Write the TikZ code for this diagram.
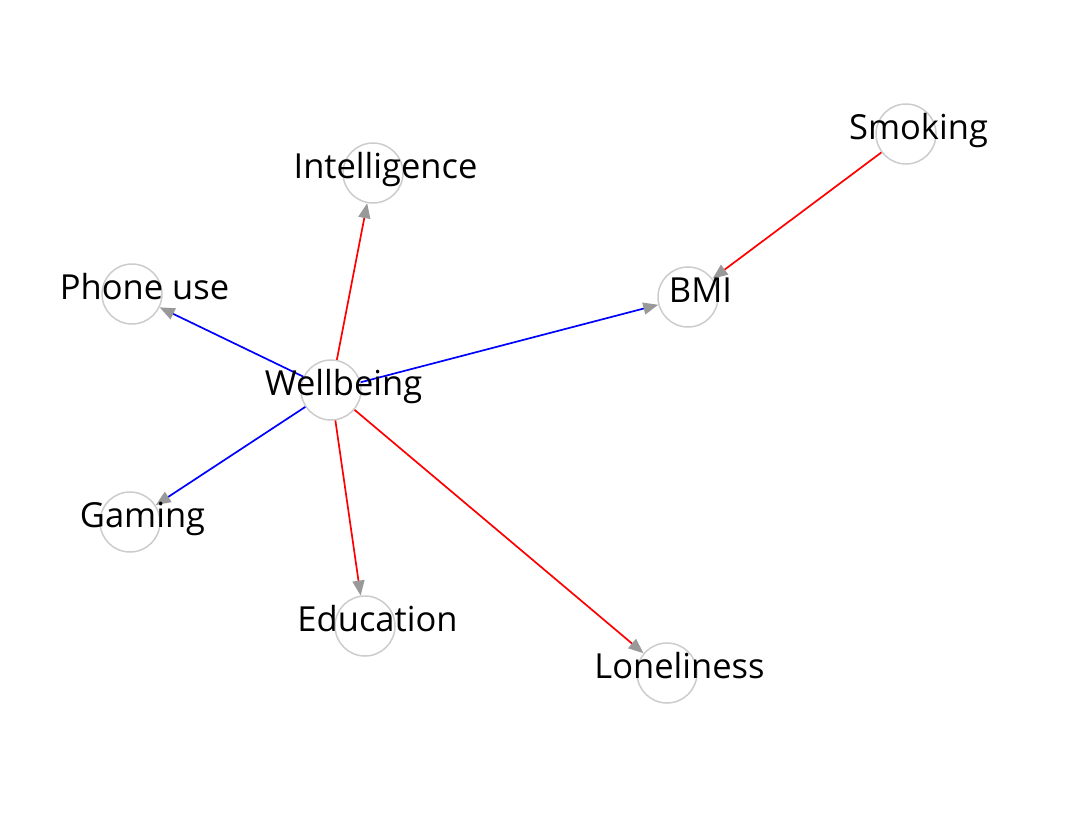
\documentclass[tikz,border=0pt]{standalone}
\usepackage{fontspec}
\setmainfont{Open Sans}
\usetikzlibrary{arrows.meta}

\begin{document}
\begin{tikzpicture}[
    x=1pt, y=-1pt,
    var/.style={
        circle,
        draw=gray!40,
        line width=1.5pt,
        minimum size=60pt,
        inner sep=0pt
    },
    lbl/.style={
        anchor=base,
        inner sep=0pt,
        font=\fontsize{34.5}{40}\selectfont
    },
    posedge/.style={draw=blue, line width=1.7pt},
    negedge/.style={draw=red, line width=1.7pt},
    >={Triangle[length=15pt, width=12pt, color=gray!80]}
]
\useasboundingbox (0,0) rectangle (1086,817);

% Variabelen
\node[var] (wb)    at (331,390) {};
\node[var] (intel) at (373,173) {};
\node[var] (phone) at (132,294) {};
\node[var] (bmi)   at (688,297) {};
\node[var] (smoke) at (906,134) {};
\node[var] (game)  at (130,522) {};
\node[var] (edu)   at (365,626) {};
\node[var] (lone)  at (667,673) {};

% Verbindingen
\foreach \j in {phone,bmi,game}
    \draw[posedge,->] (wb) -- (\j);

\foreach \j in {intel,edu,lone}
    \draw[negedge,->] (wb) -- (\j);

\draw[negedge,->] (smoke) -- (bmi);

% Labels
\node[lbl] (wb-t)    at ([xshift=12.5pt,yshift=-5pt]wb.center)    {Wellbeing};
\node[lbl] (intel-t) at ([xshift=12.5pt,yshift=-5pt]intel.center) {Intelligence};
\node[lbl] (phone-t) at ([xshift=12.5pt,yshift=-5pt]phone.center) {Phone use};
\node[lbl] (bmi-t)   at ([xshift=12.5pt,yshift=-5pt]bmi.center)   {BMI};
\node[lbl] (smoke-t) at ([xshift=12.5pt,yshift=-5pt]smoke.center) {Smoking};
\node[lbl] (game-t)  at ([xshift=12.5pt,yshift=-5pt]game.center)  {Gaming};
\node[lbl] (edu-t)   at ([xshift=12.5pt,yshift=-5pt]edu.center)   {Education};
\node[lbl] (lone-t)  at ([xshift=12.5pt,yshift=-5pt]lone.center)  {Loneliness};

\end{tikzpicture}
\end{document}
